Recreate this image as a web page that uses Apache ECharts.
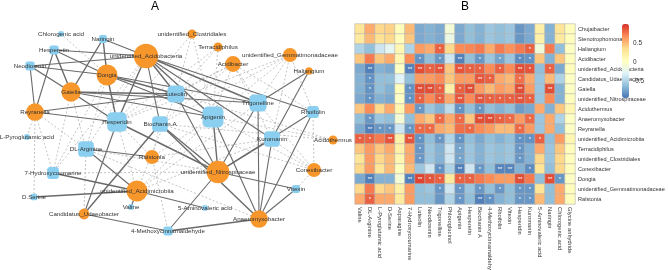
<!DOCTYPE html>
<html>
<head>
<meta charset="utf-8">
<script src="https://cdn.jsdelivr.net/npm/echarts@6/dist/echarts.min.js"></script>
<style>
html, body { margin: 0; padding: 0; background: #fff; }
#container { width: 668px; height: 270px; }
</style>
</head>
<body>
<div id="container"></div>
<script>
// compounds (heatmap columns)
var compounds = ['Valine', 'DL-Arginine', 'L-Pyroglutamic acid', 'D-Serine', 'Asparagine',
    '7-Hydroxycoumarine', 'Luteolin', 'Neodiosmin', 'Trigonelline', 'Phloroglucinol', 'Apigenin',
    'Hesperetin', 'Biochanin A', '4-Methoxycinnamaldehyde', 'Rhoifolin', 'Vitexin', 'Hesperidin',
    'Kuromanin', '5-Aminovaleric acid', 'Naringin', 'Chlorogenic acid', 'Glycine anhydride'];

// bacteria (heatmap rows)
var bacteria = ['Chujaibacter', 'Stenotrophomonas', 'Haliangium', 'Acidibacter',
    'unidentified_Acidobacteria', 'Candidatus_Udaeobacter', 'Gaiella', 'unidentified_Nitrospiraceae',
    'Acidothermus', 'Anaeromyxobacter', 'Reyranella', 'unidentified_Acidimicrobiia', 'Terracidiphilus',
    'unidentified_Clostridiales', 'Conexibacter', 'Dongia', 'unidentified_Gemmatimonadaceae', 'Ralstonia'];

// correlation values, one row per bacterium
var corr = [
    [0.3, 0.56, 0.38, 0.4, 0.05, 0.5, -0.72, -0.68, -0.72, -0.1, -0.72, -0.62, -0.68, -0.58, -0.62, -0.58, -0.8, -0.72, 0.18, -0.68, 0.3, 0.05],
    [0.25, 0.5, 0.32, 0.38, 0.05, 0.45, -0.72, -0.68, -0.72, -0.18, -0.72, -0.62, -0.68, -0.58, -0.62, -0.58, -0.8, -0.72, 0.18, -0.68, 0.25, 0.05],
    [-0.5, -0.62, -0.38, -0.25, 0.12, -0.5, 0.62, 0.56, 0.83, 0.38, 0.68, 0.7, 0.74, 0.56, 0.74, 0.66, 0.74, 0.83, -0.12, 0.74, -0.62, 0.0],
    [0.45, 0.74, 0.45, 0.56, 0.12, 0.68, -0.82, -0.62, -0.8, -0.38, -0.9, -0.62, -0.8, -0.58, -0.75, -0.58, -0.85, -0.82, 0.45, -0.68, 0.45, 0.05],
    [-0.72, -0.9, -0.68, -0.72, 0.0, -0.9, 0.9, 0.83, 0.87, 0.45, 0.87, 0.83, 0.83, 0.68, 0.83, 0.68, 0.9, 0.87, -0.62, 0.83, -0.72, 0.05],
    [-0.68, -0.82, -0.62, -0.62, -0.3, -0.62, 0.62, 0.62, 0.68, 0.45, 0.62, 0.62, 0.87, 0.83, 0.56, 0.5, 0.78, 0.56, -0.58, 0.5, -0.5, 0.0],
    [-0.68, -0.82, -0.62, -0.68, 0.05, -0.82, 0.9, 0.9, 0.83, 0.18, 0.83, 0.9, 0.62, 0.5, 0.62, 0.56, 0.9, 0.62, -0.58, 0.9, -0.68, 0.0],
    [-0.72, -0.82, -0.68, -0.72, 0.0, -0.82, 0.83, 0.68, 0.83, 0.56, 0.87, 0.68, 0.87, 0.83, 0.83, 0.83, 0.87, 0.83, -0.58, 0.68, -0.68, 0.05],
    [0.45, 0.68, 0.38, 0.56, 0.12, 0.62, -0.8, -0.58, -0.68, -0.45, -0.82, -0.62, -0.8, -0.62, -0.68, -0.62, -0.78, -0.72, 0.56, -0.68, 0.45, 0.12],
    [-0.62, -0.8, -0.58, -0.62, -0.1, -0.62, 0.56, 0.45, 0.8, 0.56, 0.8, 0.45, 0.9, 0.9, 0.83, 0.8, 0.62, 0.8, -0.58, 0.56, -0.5, 0.0],
    [-0.72, -0.9, -0.8, -0.8, -0.38, -0.8, 0.8, 0.8, 0.56, 0.5, 0.78, 0.8, 0.68, 0.62, 0.5, 0.5, 0.8, 0.62, -0.58, 0.56, -0.62, 0.0],
    [0.83, 0.83, 0.74, 0.87, 0.18, 0.87, -0.82, -0.62, -0.8, -0.5, -0.82, -0.62, -0.72, -0.62, -0.68, -0.62, -0.82, -0.82, 0.83, -0.62, 0.62, 0.12],
    [0.45, 0.62, 0.45, 0.56, 0.18, 0.56, -0.8, -0.58, -0.68, -0.38, -0.75, -0.58, -0.68, -0.58, -0.62, -0.58, -0.8, -0.68, 0.56, -0.58, 0.45, 0.05],
    [0.3, 0.62, 0.38, 0.5, 0.12, 0.56, -0.8, -0.58, -0.68, -0.38, -0.75, -0.58, -0.68, -0.58, -0.62, -0.58, -0.8, -0.68, 0.38, -0.58, 0.38, 0.05],
    [0.38, 0.62, 0.3, 0.5, 0.05, 0.5, -0.58, -0.38, -0.82, -0.5, -0.9, -0.38, -0.8, -0.62, -0.88, -0.88, -0.68, -0.85, 0.3, -0.62, 0.38, 0.05],
    [-0.72, -0.9, -0.68, -0.68, -0.1, -0.9, 0.93, 0.87, 0.83, 0.25, 0.83, 0.83, 0.74, 0.68, 0.62, 0.62, 0.9, 0.74, -0.62, 0.9, -0.8, 0.0],
    [0.38, 0.74, 0.38, 0.45, 0.18, 0.62, -0.62, -0.58, -0.8, -0.38, -0.8, -0.58, -0.8, -0.62, -0.8, -0.62, -0.8, -0.8, 0.3, -0.62, 0.56, 0.05],
    [0.56, 0.83, 0.56, 0.56, 0.25, 0.62, -0.62, -0.62, -0.8, -0.5, -0.8, -0.62, -0.9, -0.82, -0.68, -0.62, -0.8, -0.8, 0.5, -0.62, 0.56, 0.05]
];

// significance per cell: 0 none, 1 = *, 2 = **
var signif = [
    '0000000000000000000000',
    '0000000000000000000000',
    '0000000010000000010000',
    '0000001010201010110000',
    '0200022120211010210100',
    '0100000000002100100000',
    '0100012210120000200200',
    '0100011010202111210000',
    '0000001000101000000000',
    '0100000010102211010000',
    '0211011100010000100000',
    '1102021010100000111000',
    '0000001000100000100000',
    '0000001000100000100000',
    '0000000010201022010000',
    '0200022110110000200210',
    '0000000010101010110000',
    '0100000000102100110000'
];

var colorTicks = [-0.5, 0, 0.5];

// network names that differ from the heatmap
var netName = { 'Biochanin A': 'Biochanin.A', 'D-Serine': 'D.Serine' };

// layout of network A (pixel positions picked by hand)
var layoutA = {
    'unidentified_Clostridiales': [192, 34],
    'Terracidiphilus': [218, 47],
    'unidentified_Acidobacteria': [146, 56],
    'unidentified_Gemmatimonadaceae': [290, 55],
    'Acidibacter': [233, 64],
    'Haliangium': [309, 71],
    'Dongia': [107, 75],
    'Gaiella': [71, 92],
    'Reyranella': [35, 112],
    'Ralstonia': [152, 157],
    'unidentified_Nitrospiraceae': [218, 172],
    'Conexibacter': [314, 170],
    'Acidothermus': [333, 140],
    'unidentified_Acidimicrobiia': [137, 191],
    'Candidatus_Udaeobacter': [84, 214],
    'Anaeromyxobacter': [259, 219],
    'Chlorogenic acid': [61, 34],
    'Naringin': [103, 39],
    'Hesperetin': [54, 50],
    'Neodiosmin': [30, 66],
    'Luteolin': [176, 94],
    'Trigonelline': [258, 103],
    'Rhoifolin': [313, 112],
    'Hesperidin': [117, 122],
    'Biochanin A': [160, 124],
    'Apigenin': [213, 117],
    'L-Pyroglutamic acid': [27, 137],
    'DL-Arginine': [86, 149],
    'Kuromanin': [272, 139],
    '7-Hydroxycoumarine': [53, 173],
    'D-Serine': [34, 197],
    'Vitexin': [296, 189],
    'Valine': [131, 207],
    '5-Aminovaleric acid': [205, 208],
    '4-Methoxycinnamaldehyde': [168, 231]
};

var FONT = 'Liberation Sans';
var ORANGE = '#F7962A';
var SKY = '#8ACFF0';

// heatmap cells
var cells = [];
for (var i = 0; i < bacteria.length; i++) {
    for (var j = 0; j < compounds.length; j++) {
        var s = +signif[i].charAt(j);
        cells.push([j, i, corr[i][j], s === 2 ? '**' : (s === 1 ? '*' : '')]);
    }
}

// network: edges from significant cells
var degB = {}, degC = {};
var links = [];
for (var i = 0; i < bacteria.length; i++) {
    for (var j = 0; j < compounds.length; j++) {
        var s = +signif[i].charAt(j);
        if (!s) continue;
        degB[bacteria[i]] = (degB[bacteria[i]] || 0) + 1;
        degC[compounds[j]] = (degC[compounds[j]] || 0) + 1;
        var pos = corr[i][j] > 0;
        links.push({
            source: bacteria[i],
            target: netName[compounds[j]] || compounds[j],
            lineStyle: pos
                ? { color: '#6a6a6a', width: s === 2 ? 1.4 : 1.1, type: 'solid', opacity: 1 }
                : { color: '#aaaaaa', width: 0.7, type: [2, 2], opacity: 1 }
        });
    }
}

var nodes = [];
var minX = 1e9, minY = 1e9, maxX = -1e9, maxY = -1e9;
function addNode(key, name, isBac, deg) {
    var p = layoutA[key];
    minX = Math.min(minX, p[0]); maxX = Math.max(maxX, p[0]);
    minY = Math.min(minY, p[1]); maxY = Math.max(maxY, p[1]);
    nodes.push({
        name: name,
        x: p[0], y: p[1],
        symbol: isBac ? 'circle' : 'roundRect',
        symbolSize: isBac ? 4 + 1.7 * deg : 4 + 1.3 * deg,
        itemStyle: { color: isBac ? ORANGE : SKY }
    });
}
bacteria.forEach(function (b) { if (degB[b]) addNode(b, b, true, degB[b]); });
compounds.forEach(function (c) { if (degC[c]) addNode(c, netName[c] || c, false, degC[c]); });

var myChart = echarts.init(document.getElementById('container'));

var option = {
    backgroundColor: '#fff',
    animation: false,
    textStyle: { fontFamily: FONT },
    title: [
        { text: 'A', left: 146, top: -4, textStyle: { fontSize: 12, fontWeight: 'normal', color: '#000', fontFamily: FONT } },
        { text: 'B', left: 456, top: -4, textStyle: { fontSize: 12, fontWeight: 'normal', color: '#000', fontFamily: FONT } }
    ],
    grid: [
        { left: 355, top: 24, width: 220, height: 180, outerBoundsMode: 'none' },
        { left: 622, top: 24, width: 7, height: 74, outerBoundsMode: 'none' }
    ],
    xAxis: [
        {
            gridIndex: 0, type: 'category', data: compounds,
            axisLine: { show: false }, axisTick: { show: false }, splitLine: { show: false },
            axisLabel: { interval: 0, rotate: -90, fontSize: 5.8, color: '#333', margin: 3, fontFamily: FONT }
        },
        { gridIndex: 1, type: 'value', show: false }
    ],
    yAxis: [
        {
            gridIndex: 0, type: 'category', data: bacteria, inverse: true, position: 'right',
            axisLine: { show: false }, axisTick: { show: false }, splitLine: { show: false },
            axisLabel: { interval: 0, fontSize: 5.6, color: '#333', margin: 3, fontFamily: FONT }
        },
        {
            gridIndex: 1, type: 'value', min: -0.95, max: 1.0, position: 'right',
            axisLine: { show: false }, axisTick: { show: false }, splitLine: { show: false },
            axisLabel: { customValues: colorTicks, fontSize: 6.5, color: '#333', margin: 4, fontFamily: FONT }
        }
    ],
    visualMap: {
        type: 'continuous', min: -0.95, max: 1.0, seriesIndex: 0, dimension: 2,
        calculable: false, realtime: false, text: null, showLabel: false,
        left: 622, top: 24, itemWidth: 7, itemHeight: 74, padding: 0,
        inRange: { color: ['#4575B4', '#91BFDB', '#E0F3F8', '#FFFFBF', '#FEE090', '#FC8D59', '#D73027'] }
    },
    series: [
        {
            type: 'heatmap',
            xAxisIndex: 0, yAxisIndex: 0,
            data: cells,
            itemStyle: { borderColor: '#b4b4b4', borderWidth: 0.6 },
            label: {
                show: true, color: '#fff', fontSize: 6, fontFamily: FONT,
                formatter: function (p) { return p.data[3]; }
            },
            emphasis: { disabled: true }
        },
        {
            type: 'graph',
            layout: 'none',
            roam: false,
            left: minX, top: minY, width: maxX - minX, height: maxY - minY,
            data: nodes,
            links: links,
            edgeSymbol: ['none', 'none'],
            label: { show: true, position: 'inside', fontSize: 6.2, color: '#333', fontFamily: FONT },
            emphasis: { disabled: true },
            z: 3
        }
    ]
};
myChart.setOption(option);
</script>
</body>
</html>
